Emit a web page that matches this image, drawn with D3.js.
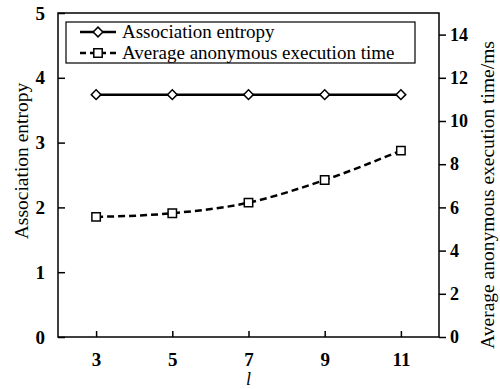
<!DOCTYPE html>
<html>
<head>
<meta charset="utf-8">
<script src="https://cdn.jsdelivr.net/npm/d3@7"></script>
<style>
  body { margin: 0; background: #fff; }
  svg text { font-family: "Liberation Serif", "DejaVu Serif", serif; fill: #000; }
</style>
</head>
<body>
<div id="chart"></div>
<script>
const lValues = [3, 5, 7, 9, 11];
const entropy = [3.74, 3.74, 3.74, 3.74, 3.74];
const execTime = [5.56, 5.73, 6.22, 7.27, 8.63];
const leftTicks = [0, 1, 2, 3, 4, 5];
const rightTicks = [0, 2, 4, 6, 8, 10, 12, 14];
const seriesNames = ['Association entropy', 'Average anonymous execution time'];

const W = 500, H = 389;
const margin = { top: 13, right: 61, bottom: 52, left: 58 };
const width = W - margin.left - margin.right;
const height = H - margin.top - margin.bottom;
const serif = '"Liberation Serif", "DejaVu Serif", serif';

const svg = d3.select('#chart').append('svg')
  .attr('width', W)
  .attr('height', H);

const g = svg.append('g')
  .attr('transform', `translate(${margin.left},${margin.top})`);

const x = d3.scaleLinear().domain([2, 12]).range([0, width]);
const yL = d3.scaleLinear().domain([0, 5]).range([height, 0]);
const yR = d3.scaleLinear().domain([0, 15]).range([height, 0]);

// frame
g.append('rect')
  .attr('width', width).attr('height', height)
  .attr('fill', 'none').attr('stroke', '#000').attr('stroke-width', 1.5);

function styleAxis(sel, size) {
  sel.attr('font-family', serif);
  sel.select('.domain').remove();
  sel.selectAll('line').attr('stroke-width', 1.5);
  sel.selectAll('text')
    .style('font-family', serif)
    .style('font-size', size)
    .style('font-weight', 'bold');
}

// x axis (ticks inward)
const xAx = g.append('g')
  .attr('transform', `translate(0,${height})`)
  .call(d3.axisBottom(x).tickValues(lValues).tickSize(-6).tickPadding(16).tickFormat(d3.format('d')));
styleAxis(xAx, '19px');

// left axis (ticks inward)
const lAx = g.append('g')
  .call(d3.axisLeft(yL).tickValues(leftTicks).tickSize(-7).tickPadding(13).tickFormat(d3.format('d')));
styleAxis(lAx, '19px');

// right axis (ticks outward)
const rAx = g.append('g')
  .attr('transform', `translate(${width},0)`)
  .call(d3.axisRight(yR).tickValues(rightTicks).tickSize(7).tickPadding(4).tickFormat(d3.format('d')));
styleAxis(rAx, '18px');

// axis titles
svg.append('text')
  .attr('transform', `translate(28,161) rotate(-90)`)
  .attr('text-anchor', 'middle')
  .style('font-size', '19.5px')
  .text('Association entropy');

svg.append('text')
  .attr('transform', `translate(494,195) rotate(-90)`)
  .attr('text-anchor', 'middle')
  .style('font-size', '19.5px')
  .text('Average anonymous execution time/ms');

svg.append('text')
  .attr('x', margin.left + x(7))
  .attr('y', 385)
  .attr('text-anchor', 'middle')
  .style('font-size', '18px')
  .style('font-style', 'italic')
  .text('l');

// series lines
const lineE = d3.line().x((d, i) => x(lValues[i])).y(d => yL(d));
const lineT = d3.line().x((d, i) => x(lValues[i])).y(d => yR(d)).curve(d3.curveMonotoneX);

g.append('path').datum(entropy)
  .attr('d', lineE).attr('fill', 'none')
  .attr('stroke', '#000').attr('stroke-width', 2.5);

g.append('path').datum(execTime)
  .attr('d', lineT).attr('fill', 'none')
  .attr('stroke', '#000').attr('stroke-width', 2.5)
  .attr('stroke-dasharray', '7,4');

const diamond = d3.symbol().type(d3.symbolDiamond2).size(60);
const square = d3.symbol().type(d3.symbolSquare2).size(90);

g.selectAll('.dia').data(entropy).enter().append('path')
  .attr('transform', (d, i) => `translate(${x(lValues[i])},${yL(d)})`)
  .attr('d', diamond)
  .attr('fill', '#fff').attr('stroke', '#000').attr('stroke-width', 1.5);

g.selectAll('.sq').data(execTime).enter().append('path')
  .attr('transform', (d, i) => `translate(${x(lValues[i])},${yR(d)})`)
  .attr('d', square)
  .attr('fill', '#fff').attr('stroke', '#000').attr('stroke-width', 1.5);

// legend
const legend = svg.append('g');
legend.append('rect')
  .attr('x', 66).attr('y', 22).attr('width', 349).attr('height', 41)
  .attr('fill', '#fff').attr('stroke', '#000').attr('stroke-width', 1.2);

seriesNames.forEach((name, i) => {
  const cy = 32 + i * 21;
  legend.append('line')
    .attr('x1', 80).attr('x2', 116).attr('y1', cy).attr('y2', cy)
    .attr('stroke', '#000').attr('stroke-width', 2.5)
    .attr('stroke-dasharray', i === 0 ? null : '6,4');
  legend.append('path')
    .attr('transform', `translate(98,${cy})`)
    .attr('d', i === 0 ? diamond : square)
    .attr('fill', '#fff').attr('stroke', '#000').attr('stroke-width', 1.5);
  legend.append('text')
    .attr('x', 122).attr('y', cy + 6)
    .style('font-size', '19px')
    .text(name);
});
</script>
</body>
</html>
